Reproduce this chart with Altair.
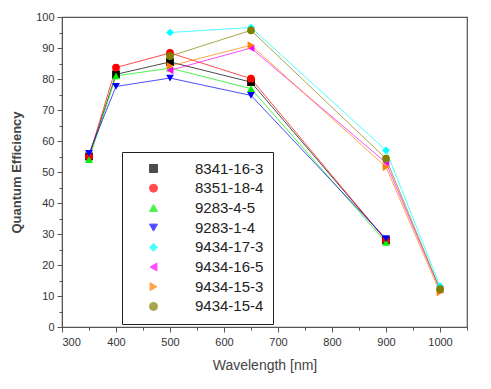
import altair as alt
import pandas as pd

series = ["8341-16-3", "8351-18-4", "9283-4-5", "9283-1-4",
          "9434-17-3", "9434-16-5", "9434-15-3", "9434-15-4"]
colors = ["#000000", "#ff0000", "#00ee00", "#0000ff",
          "#00ffff", "#ff00ff", "#ff8000", "#808000"]
shapes = ["square", "circle", "triangle-up", "triangle-down",
          "diamond", "triangle-left", "triangle-right", "circle"]
wl_a = [350, 400, 500, 650, 900]
wl_b = [500, 650, 900, 1000]
qe_8341_16_3 = [55.0, 81.5, 85.5, 79.0, 28.0]
qe_8351_18_4 = [55.0, 83.7, 88.4, 80.1, 28.0]
qe_9283_4_5 = [54.0, 81.0, 83.5, 76.9, 27.3]
qe_9283_1_4 = [56.0, 77.6, 80.3, 74.7, 28.5]
qe_9434_17_3 = [95.0, 96.6, 57.0, 13.2]
qe_9434_16_5 = [82.8, 90.0, 53.0, 12.0]
qe_9434_15_3 = [84.2, 90.9, 51.6, 11.2]
qe_9434_15_4 = [87.4, 95.7, 54.3, 12.2]

x_major = [300, 400, 500, 600, 700, 800, 900, 1000]
x_minor = [350, 450, 550, 650, 750, 850, 950, 1050]
y_major = [0, 10, 20, 30, 40, 50, 60, 70, 80, 90, 100]
y_minor = [5, 15, 25, 35, 45, 55, 65, 75, 85, 95]

vals = [qe_8341_16_3, qe_8351_18_4, qe_9283_4_5, qe_9283_1_4,
        qe_9434_17_3, qe_9434_16_5, qe_9434_15_3, qe_9434_15_4]
rows = []
for i, (name, v) in enumerate(zip(series, vals)):
    wl = wl_a if i < 4 else wl_b
    for w, q in zip(wl, v):
        rows.append({"series": name, "wl": w, "qe": q, "order": i})
df = pd.DataFrame(rows)

xs = alt.Scale(domain=[300, 1050], nice=False, zero=False)
ys = alt.Scale(domain=[0, 100], nice=False)

axis_common = dict(domainColor="#555", tickColor="#555", labelColor="#333",
                   labelFont="Liberation Sans", labelFontSize=11, format="d",
                   titleFont="Liberation Sans", titleColor="#444", grid=False)

def marker_legend():
    return alt.Legend(title=None, orient="none", legendX=60, legendY=135,
                      symbolSize=64, symbolStrokeWidth=1, symbolOffset=15,
                      labelFont="Liberation Sans", labelFontSize=15,
                      labelColor="#222", labelOffset=34,
                      rowPadding=3.7, padding=9,
                      strokeColor="#222", fillColor="white")

base = alt.Chart(df)

lines = base.mark_line(strokeWidth=1, opacity=0.7).encode(
    x=alt.X("wl:Q", scale=xs, axis=alt.Axis(values=x_major, title="Wavelength [nm]", orient="bottom",
                                           titleFontSize=14, titleFontWeight="normal",
                                           tickSize=5, titlePadding=11, labelPadding=4,
                                           **axis_common)),
    y=alt.Y("qe:Q", scale=ys, axis=alt.Axis(values=y_major, title="Quantum Efficiency", orient="left",
                                           titleFontSize=13, titleFontWeight="bold",
                                           tickSize=5, titlePadding=12, labelPadding=3,
                                           **axis_common)),
    stroke=alt.Stroke("series:N", scale=alt.Scale(domain=series, range=colors), legend=marker_legend()),
    detail="series:N",
)

points = base.mark_point(filled=True, size=60, opacity=1).encode(
    x=alt.X("wl:Q", scale=xs, axis=None),
    y=alt.Y("qe:Q", scale=ys, axis=None),
    color=alt.Color("series:N", scale=alt.Scale(domain=series, range=colors), legend=marker_legend()),
    shape=alt.Shape("series:N", scale=alt.Scale(domain=series, range=shapes), legend=marker_legend()),
    order="order:Q",
)

minor_x = base.mark_point(opacity=0).encode(
    x=alt.X("wl:Q", scale=xs, axis=alt.Axis(values=x_minor, labels=False, title=None,
                                           tickSize=3, orient="bottom", domain=False,
                                           tickColor="#555", grid=False)),
    y=alt.Y("qe:Q", scale=ys, axis=None),
)
minor_y = base.mark_point(opacity=0).encode(
    x=alt.X("wl:Q", scale=xs, axis=None),
    y=alt.Y("qe:Q", scale=ys, axis=alt.Axis(values=y_minor, labels=False, title=None,
                                           tickSize=3, orient="left", domain=False,
                                           tickColor="#555", grid=False)),
)

chart = alt.layer(lines, points, minor_x, minor_y).resolve_axis(
    x="independent", y="independent"
).properties(
    width=405, height=310,
    autosize=alt.AutoSizeParams(type="none"),
    padding={"left": 54, "top": 9, "right": 10, "bottom": 50},
).configure_view(stroke="#555", strokeWidth=1.2)

chart.save("out.html", embed_options={"renderer": "svg", "actions": False})
